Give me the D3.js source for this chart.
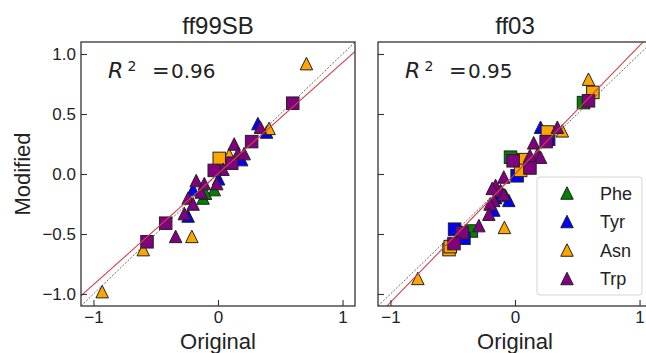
<!DOCTYPE html>
<html lang="en">
<head>
<meta charset="UTF-8">
<title>ff99SB / ff03</title>
<script src="https://cdn.jsdelivr.net/npm/d3@7"></script>
<style>
  body { margin: 0; background: #fff; }
  text { font-family: "Liberation Sans", Arial, sans-serif; fill: #222; }
  text.math { font-family: "DejaVu Sans", sans-serif; }
</style>
</head>
<body>
<svg id="chart" width="646" height="353"></svg>
<script>
    // --- data ---
    const residues = ["Phe", "Tyr", "Asn", "Trp"];
    const colors = ["#008000", "#0000ff", "#ffa500", "#800080"];
    const panelTitles = ["ff99SB", "ff03"];
    const rSquared = ["0.96", "0.95"];
    const fitSlope = [0.925, 1.07];
    const fitIntercept = [0.003, 0.0];

    const xTicks = [-1, 0, 1];
    const xTickLabels = ["\u22121", "0", "1"];
    const yTicks = [-1, -0.5, 0, 0.5, 1];
    const yTickLabels = ["\u22121.0", "\u22120.5", "0.0", "0.5", "1.0"];

    // ff99SB, triangles / squares per residue  [original, modified]
    const ff99PheTri = [[-0.03, -0.13], [-0.12, -0.20], [-0.10, -0.16]];
    const ff99PheSq = [];
    const ff99TyrTri = [[0.32, 0.42], [0.39, 0.35], [0.19, 0.12], [0.005, -0.04], [-0.20, -0.13], [-0.24, -0.35]];
    const ff99TyrSq = [];
    const ff99AsnTri = [[0.71, 0.92], [0.41, 0.38], [0.09, 0.16], [-0.21, -0.52], [-0.60, -0.63], [-0.93, -0.98]];
    const ff99AsnSq = [[0.01, 0.13]];
    const ff99TrpTri = [[0.34, 0.39], [0.13, 0.25], [0.16, 0.17], [0.21, 0.17], [0.04, 0.04], [-0.01, -0.08],
        [-0.175, -0.055], [-0.11, -0.08], [-0.135, -0.15], [-0.24, -0.20], [-0.20, -0.25], [-0.27, -0.33], [-0.34, -0.52]];
    const ff99TrpSq = [[0.60, 0.59], [0.27, 0.27], [0.11, 0.09], [-0.03, 0.03], [-0.42, -0.41], [-0.57, -0.565]];

    // ff03
    const ff03PheTri = [[-0.076, -0.18]];
    const ff03PheSq = [[0.55, 0.595], [-0.036, 0.14], [-0.35, -0.475]];
    const ff03TyrTri = [[0.205, 0.39], [-0.05, -0.22], [-0.156, -0.197], [-0.17, -0.30]];
    const ff03TyrSq = [[0.27, 0.29], [0.017, -0.015], [-0.485, -0.46], [-0.41, -0.535]];
    const ff03AsnTri = [[0.59, 0.79], [0.38, 0.36], [-0.085, -0.445], [-0.78, -0.87]];
    const ff03AsnSq = [[0.625, 0.68], [0.26, 0.35], [0.07, 0.12], [0.045, 0.03], [-0.53, -0.63], [-0.52, -0.605]];
    const ff03TrpTri = [[0.34, 0.39], [0.15, 0.26], [0.18, 0.165], [0.205, 0.14], [0.12, 0.155], [-0.09, -0.025],
        [-0.156, -0.095], [-0.183, -0.12], [-0.116, -0.137], [-0.09, -0.17], [-0.17, -0.22], [-0.20, -0.25],
        [-0.21, -0.335], [-0.29, -0.43]];
    const ff03TrpSq = [[0.59, 0.61], [0.25, 0.27], [-0.015, 0.11], [0.12, 0.05], [-0.425, -0.49], [-0.49, -0.58]];

    const panelTri = [[ff99PheTri, ff99TyrTri, ff99AsnTri, ff99TrpTri], [ff03PheTri, ff03TyrTri, ff03AsnTri, ff03TrpTri]];
    const panelSq = [[ff99PheSq, ff99TyrSq, ff99AsnSq, ff99TrpSq], [ff03PheSq, ff03TyrSq, ff03AsnSq, ff03TrpSq]];

    // --- layout ---
    const panelLeft = [81, 378];
    const panelW = 274;
    const plotTop = 42;
    const plotBottom = 306;
    const ms = 12.5;
    const edge = "#222";

    const svg = d3.select("#chart");

    const triPath = function (cx, cy) {
        const h = ms / 2;
        return "M" + cx + "," + (cy - h) + "L" + (cx + h) + "," + (cy + h) + "L" + (cx - h) + "," + (cy + h) + "Z";
    };

    const y = d3.scaleLinear().domain([-1.1, 1.1]).range([plotBottom, plotTop]);

    panelTitles.forEach(function (title, p) {
        const x0 = panelLeft[p];
        const x = d3.scaleLinear().domain([-1.1, 1.1]).range([x0, x0 + panelW]);

        svg.append("clipPath").attr("id", "clip" + p)
            .append("rect")
            .attr("x", x0).attr("y", plotTop)
            .attr("width", panelW).attr("height", plotBottom - plotTop);

        const g = svg.append("g");
        const plot = g.append("g").attr("clip-path", "url(#clip" + p + ")");

        // markers, one residue after another
        residues.forEach(function (res, r) {
            plot.append("g").selectAll("path")
                .data(panelTri[p][r]).enter()
                .append("path")
                .attr("d", function (d) { return triPath(x(d[0]), y(d[1])); })
                .attr("fill", colors[r])
                .attr("stroke", edge)
                .attr("stroke-width", 1);
            plot.append("g").selectAll("rect")
                .data(panelSq[p][r]).enter()
                .append("rect")
                .attr("x", function (d) { return x(d[0]) - ms / 2; })
                .attr("y", function (d) { return y(d[1]) - ms / 2; })
                .attr("width", ms).attr("height", ms)
                .attr("fill", colors[r])
                .attr("stroke", edge)
                .attr("stroke-width", 1);
        });

        // y = x reference and fitted line
        const ends = [-1.1, 1.1];
        plot.append("line")
            .attr("x1", x(ends[0])).attr("y1", y(ends[0]))
            .attr("x2", x(ends[1])).attr("y2", y(ends[1]))
            .attr("stroke", "#444").attr("stroke-width", 0.8)
            .attr("stroke-dasharray", "2,1.6");
        const fx = [-1.3, 1.3];
        plot.append("line")
            .attr("x1", x(fx[0])).attr("y1", y(fitSlope[p] * fx[0] + fitIntercept[p]))
            .attr("x2", x(fx[1])).attr("y2", y(fitSlope[p] * fx[1] + fitIntercept[p]))
            .attr("stroke", "#d0444a").attr("stroke-width", 1.1);

        // axes, ticks pointing inward
        const xAxis = g.append("g")
            .attr("transform", "translate(0," + plotBottom + ")")
            .call(d3.axisBottom(x).tickValues(xTicks)
                .tickFormat(function (d, i) { return xTickLabels[i]; })
                .tickSize(-6).tickSizeOuter(0).tickPadding(5));
        const yAxis = g.append("g")
            .attr("transform", "translate(" + x0 + ",0)")
            .call(d3.axisLeft(y).tickValues(yTicks)
                .tickFormat(function (d, i) { return p === 0 ? yTickLabels[i] : ""; })
                .tickSize(-6).tickSizeOuter(0).tickPadding(5));
        [xAxis, yAxis].forEach(function (a) {
            a.select(".domain").remove();
            a.selectAll(".tick line").attr("stroke", "#333").attr("stroke-width", 1.1);
            a.selectAll(".tick text")
                .style("font-family", "'Liberation Sans', Arial, sans-serif")
                .style("font-size", "17px").attr("fill", "#222");
        });

        // frame
        g.append("rect")
            .attr("x", x0).attr("y", plotTop)
            .attr("width", panelW).attr("height", plotBottom - plotTop)
            .attr("fill", "none").attr("stroke", "#333").attr("stroke-width", 1.3);

        // title and labels
        g.append("text")
            .attr("x", x(0)).attr("y", 34)
            .attr("text-anchor", "middle")
            .style("font-size", "24px")
            .text(title);

        g.append("text")
            .attr("x", x(0)).attr("y", 349)
            .attr("text-anchor", "middle")
            .style("font-size", "22px")
            .text("Original");

        // R^2 annotation, mathtext-like (DejaVu)
        g.append("text").attr("class", "math")
            .attr("x", x0 + 27).attr("y", 78)
            .style("font-size", "22px").style("font-style", "italic")
            .text("R");
        g.append("text").attr("class", "math")
            .attr("x", x0 + 46.5).attr("y", 71)
            .style("font-size", "14px")
            .text("2");
        g.append("text").attr("class", "math")
            .attr("x", x0 + 71).attr("y", 78)
            .style("font-size", "21px")
            .text("=");
        g.append("text").attr("class", "math")
            .attr("x", x0 + 90).attr("y", 78)
            .style("font-size", "20px")
            .text(rSquared[p]);
    });

    svg.append("text")
        .attr("transform", "translate(30," + y(0) + ") rotate(-90)")
        .attr("text-anchor", "middle")
        .style("font-size", "22px")
        .text("Modified");

    // legend (right panel, lower right)
    const lg = svg.append("g").attr("transform", "translate(537,177)");
    lg.append("rect")
        .attr("width", 105).attr("height", 118).attr("rx", 3)
        .attr("fill", "#fff").attr("fill-opacity", 0.8)
        .attr("stroke", "#d5d5d5");
    residues.forEach(function (res, r) {
        const cy = 16 + r * 28.5;
        lg.append("path")
            .attr("d", triPath(30, cy))
            .attr("fill", colors[r])
            .attr("stroke", edge).attr("stroke-width", 1);
        lg.append("text")
            .attr("x", 63).attr("y", cy + 6.5)
            .style("font-size", "18px")
            .text(res);
    });
</script>
</body>
</html>
